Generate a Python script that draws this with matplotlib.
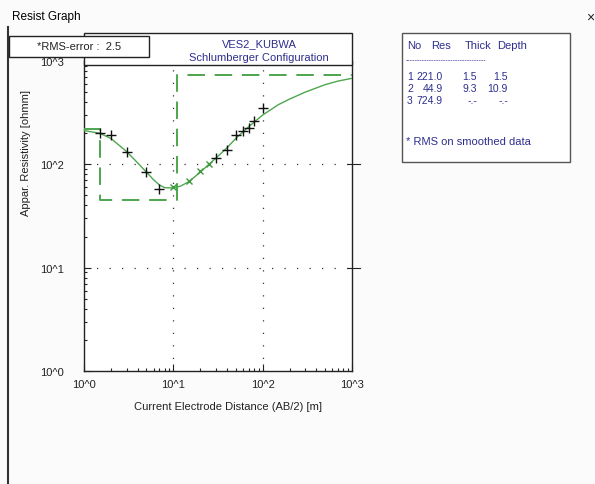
import matplotlib
matplotlib.use("Agg")
import matplotlib.pyplot as plt
from matplotlib.patches import Rectangle
from matplotlib.lines import Line2D
from matplotlib.ticker import FixedLocator, FixedFormatter, LogLocator, NullFormatter

plt.rcParams['font.family'] = ['Liberation Sans', 'DejaVu Sans']

# Field sounding: half electrode spacing AB/2 [m] and apparent resistivity [ohmm]
ab2_meas = [1.5, 2.0, 3.0, 5.0, 7.0, 30, 40, 50, 60, 70, 80, 100]
rho_meas = [200, 193, 131, 84, 58, 116, 138, 193, 211, 227, 265, 349]
ab2_fit = [10, 15, 20, 25]
rho_fit = [61, 69.5, 87, 101]

# Calculated response curve of the layered model
ab2_curve = [1.0, 1.5, 2.0, 3.0, 4.0, 5.0, 6.0, 7.0, 8.0, 10, 12, 15, 20, 30,
             40, 50, 70, 100, 150, 200, 300, 500, 700, 1000]
rho_curve = [212, 200, 178, 133, 103, 84, 71, 63, 59.5, 59, 61.5, 68, 84, 115,
             145, 178, 232, 300, 378, 428, 500, 590, 640, 680]

# Layer model
layer_no = [1, 2, 3]
layer_res = [221.0, 44.9, 724.9]
layer_thick = [1.5, 9.3, None]
layer_depth = [1.5, 10.9, None]

tick_vals = [1, 10, 100, 1000]
tick_text = ["10^0", "10^1", "10^2", "10^3"]

W, H = 595, 485
fig = plt.figure(figsize=(W / 100, H / 100), dpi=100)
fig.patch.set_facecolor('#fbfbfb')


def fx(px):
    return px / W


def fy(py):
    return 1 - py / H


# plot area: x 84..352 px, y 62..372 px
ax = fig.add_axes([fx(84), fy(372), fx(352) - fx(84), fy(62) - fy(372)])
ax.set_facecolor('white')
ax.set_xscale('log')
ax.set_yscale('log')
ax.set_xlim(1, 1000)
ax.set_ylim(1, 1000)

green = '#4ea64e'
# model step (dashed)
sx = [1.0]
sy = [layer_res[0]]
for i, d in enumerate(layer_depth[:-1]):
    sx += [d, d]
    sy += [layer_res[i], layer_res[i + 1]]
sx.append(1000)
sy.append(layer_res[-1])
ax.plot(sx, sy, color=green, lw=1.4, dashes=(9, 5), zorder=3)

ax.plot(ab2_curve, rho_curve, color=green, lw=1.0, zorder=4)
ax.plot(ab2_meas, rho_meas, ls='none', marker='+', ms=7, mew=1.0,
        color='#111111', zorder=5)
ax.plot(ab2_fit, rho_fit, ls='none', marker='x', ms=4.5, mew=1.0,
        color='#3f9a3f', zorder=5)

# sparse dotted grid at decades
for v in [10, 100]:
    ax.axvline(v, color='#333333', lw=0.9, ls=(0, (1, 9)), zorder=1)
    ax.axhline(v, color='#333333', lw=0.9, ls=(0, (1, 9)), zorder=1)

ax.xaxis.set_major_locator(FixedLocator(tick_vals))
ax.xaxis.set_major_formatter(FixedFormatter(tick_text))
ax.yaxis.set_major_locator(FixedLocator(tick_vals))
ax.yaxis.set_major_formatter(FixedFormatter(tick_text))
ax.xaxis.set_minor_locator(LogLocator(base=10, subs=range(2, 10)))
ax.yaxis.set_minor_locator(LogLocator(base=10, subs=range(2, 10)))
ax.xaxis.set_minor_formatter(NullFormatter())
ax.yaxis.set_minor_formatter(NullFormatter())

ax.tick_params(which='both', direction='in', color='#222222', width=0.8,
               labelsize=8, labelcolor='#222222', top=False, right=False)
ax.tick_params(which='major', length=5)
ax.tick_params(which='minor', length=2.5)
ax.tick_params(axis='y', pad=23)
ax.tick_params(axis='x', pad=6)
for lab in ax.get_yticklabels():
    lab.set_horizontalalignment('center')

# right spine carries crossing major ticks
for v in [10, 100]:
    ax.plot([1, 1.03], [v, v], transform=ax.get_yaxis_transform(),
            color='#222222', lw=0.8, clip_on=False)
    ax.plot([0.985, 1.0], [v, v], transform=ax.get_yaxis_transform(),
            color='#222222', lw=0.8, clip_on=False)

for s in ['left', 'bottom', 'right']:
    ax.spines[s].set_color('#222222')
    ax.spines[s].set_linewidth(1.0)
ax.spines['top'].set_visible(False)

fig.text(fx(228), fy(407), "Current Electrode Distance (AB/2) [m]",
         ha='center', va='center', fontsize=8, color='#222222')
fig.text(fx(26), fy(153), "Appar. Resistivity [ohmm]", rotation=90,
         ha='center', va='center', fontsize=8, color='#222222')

# window chrome
fig.text(fx(12), fy(17), "Resist Graph", ha='left', va='center',
         fontsize=8.5, color='black')
fig.text(fx(590), fy(18), "×", ha='center', va='center', fontsize=10,
         color='#222222')
fig.add_artist(Line2D([fx(8), fx(8)], [fy(28), 0], color='#333333', lw=1.5))

navy = '#2e2e8e'
# title box
fig.add_artist(Rectangle((fx(84), fy(66)), fx(352) - fx(84), fy(34) - fy(66),
                         transform=fig.transFigure, facecolor='white',
                         edgecolor='#222222', lw=1.0, zorder=6))
fig.text(fx(259), fy(44), "VES2_KUBWA", ha='center', va='center',
         fontsize=8, color=navy, zorder=7)
fig.text(fx(259), fy(58), "Schlumberger Configuration", ha='center',
         va='center', fontsize=8, color=navy, zorder=7)

# RMS box
fig.add_artist(Rectangle((fx(9), fy(58)), fx(149) - fx(9), fy(37) - fy(58),
                         transform=fig.transFigure, facecolor='white',
                         edgecolor='#222222', lw=1.0, zorder=8))
fig.text(fx(37), fy(47.5), "*RMS-error :  2.5", ha='left', va='center',
         fontsize=8, color='#222222', zorder=9)

# layer table
fig.add_artist(Rectangle((fx(402), fy(163)), fx(570) - fx(402),
                         fy(34) - fy(163), transform=fig.transFigure,
                         facecolor='white', edgecolor='#555555', lw=1.0,
                         zorder=6))
tkw = dict(va='center', fontsize=8, color=navy, zorder=7)
rkw = dict(va='center', fontsize=7.5, color=navy, zorder=7)
fig.text(fx(407), fy(46), "No", ha='left', **tkw)
fig.text(fx(451), fy(46), "Res", ha='right', **tkw)
fig.text(fx(478), fy(46), "Thick", ha='center', **tkw)
fig.text(fx(512), fy(46), "Depth", ha='center', **tkw)
fig.text(fx(406), fy(61), "-" * 34, ha='left', va='center', fontsize=5,
         color=navy, zorder=7)


def fmt(v):
    return "-.-" if v is None else f"{v:.1f}"


row_y = [77, 89, 101]
for n, r, t, d, yy in zip(layer_no, layer_res, layer_thick, layer_depth, row_y):
    fig.text(fx(407), fy(yy), str(n), ha='left', **rkw)
    fig.text(fx(443), fy(yy), f"{r:.1f}", ha='right', **rkw)
    fig.text(fx(477), fy(yy), fmt(t), ha='right', **rkw)
    fig.text(fx(508), fy(yy), fmt(d), ha='right', **rkw)
fig.text(fx(406), fy(142), "* RMS on smoothed data", ha='left', **tkw)

fig.savefig("out.png", dpi=100, facecolor=fig.get_facecolor())
